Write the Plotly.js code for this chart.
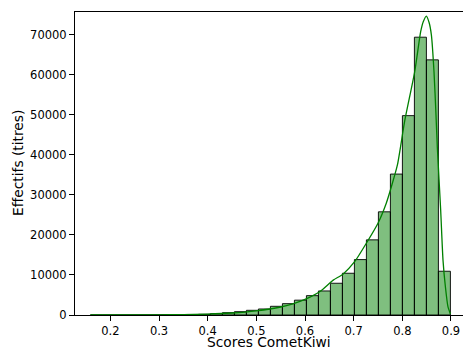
<!DOCTYPE html>
<html>
<head>
<meta charset="utf-8">
<script src="https://cdn.plot.ly/plotly-3.0.1.min.js"></script>
<style>html,body{margin:0;padding:0;background:#fff}#chart{width:464px;height:349px}</style>
</head>
<body>
<div id="chart"></div>
<script>
// Histogram bins (30 equal bins)
const binStart = 0.159;
const binWidth = 0.02466;
const binCounts = [5, 8, 12, 18, 28, 40, 60, 90, 130, 170,
  330, 580, 830, 1170, 1500, 2170, 2830, 3700, 4830, 6000,
  7920, 10420, 13830, 18750, 25750, 35170, 49750, 69325, 63670, 10920];

// KDE curve
const kdeX = [0.159, 0.2, 0.25, 0.3, 0.35, 0.4, 0.45, 0.5, 0.55, 0.575, 0.6, 0.63, 0.658, 0.678, 0.702, 0.726, 0.75, 0.767, 0.7775, 0.79, 0.805, 0.8254, 0.8377, 0.843, 0.8494, 0.855, 0.8597, 0.8651, 0.8692, 0.872, 0.8788, 0.8836, 0.8885, 0.8938, 0.8988];
const kdeY = [3, 8, 20, 45, 100, 220, 500, 1050, 2000, 2800, 3900, 5800, 8700, 10200, 13300, 17900, 22900, 27900, 32000, 37500, 48500, 60700, 70700, 73200, 74600, 73000, 69900, 60700, 49900, 41700, 26200, 13700, 7060, 2070, 250];

const xTicks = [0.2, 0.3, 0.4, 0.5, 0.6, 0.7, 0.8, 0.9];
const yTicks = [0, 10000, 20000, 30000, 40000, 50000, 60000, 70000];
const xTitle = 'Scores CometKiwi';
const yTitle = 'Effectifs (titres)';

const binCenters = binCounts.map((_, i) => binStart + (i + 0.5) * binWidth);

const font = "DejaVu Sans, sans-serif";

const traces = [
  {
    type: 'bar',
    x: binCenters,
    y: binCounts,
    width: binWidth,
    marker: {color: 'rgba(0,128,0,0.5)', line: {color: 'rgba(0,0,0,0.9)', width: 1}},
    hoverinfo: 'skip'
  },
  {
    type: 'scatter',
    mode: 'lines',
    x: kdeX,
    y: kdeY,
    line: {color: '#008000', width: 1.3, shape: 'spline', smoothing: 0.6},
    hoverinfo: 'skip'
  }
];

const layout = {
  width: 464,
  height: 349,
  margin: {l: 75, r: 1, t: 12, b: 34, pad: 0},
  paper_bgcolor: '#fff',
  plot_bgcolor: '#fff',
  showlegend: false,
  bargap: 0,
  font: {family: font, color: '#000', size: 11.5},
  xaxis: {
    range: [0.1273, 0.9247],
    tickvals: xTicks,
    ticktext: xTicks.map(v => v.toFixed(1)),
    ticks: 'outside', ticklen: 5, tickwidth: 1, tickcolor: '#000',
    showline: true, linecolor: '#000', linewidth: 1, mirror: true,
    showgrid: false, zeroline: false,
    tickfont: {family: font, size: 11.5, color: '#000'}
  },
  yaxis: {
    range: [0, 75615],
    tickvals: yTicks,
    ticktext: yTicks.map(v => String(v)),
    ticks: 'outside', ticklen: 5, tickwidth: 1, tickcolor: '#000',
    showline: true, linecolor: '#000', linewidth: 1, mirror: false,
    showgrid: false, zeroline: false,
    tickfont: {family: font, size: 11.5, color: '#000'}
  },
  annotations: [
    {text: xTitle, xref: 'paper', yref: 'paper', x: 0.5, y: 0, xanchor: 'center', yanchor: 'top',
     yshift: -16.5, showarrow: false, font: {family: font, size: 13.8, color: '#000'}},
    {text: yTitle, xref: 'paper', yref: 'paper', x: 0, y: 0.5, xanchor: 'center', yanchor: 'middle',
     xshift: -57.5, textangle: -90, showarrow: false, font: {family: font, size: 13.8, color: '#000'}}
  ]
};

Plotly.newPlot('chart', traces, layout, {staticPlot: true, displayModeBar: false});
</script>
</body>
</html>
